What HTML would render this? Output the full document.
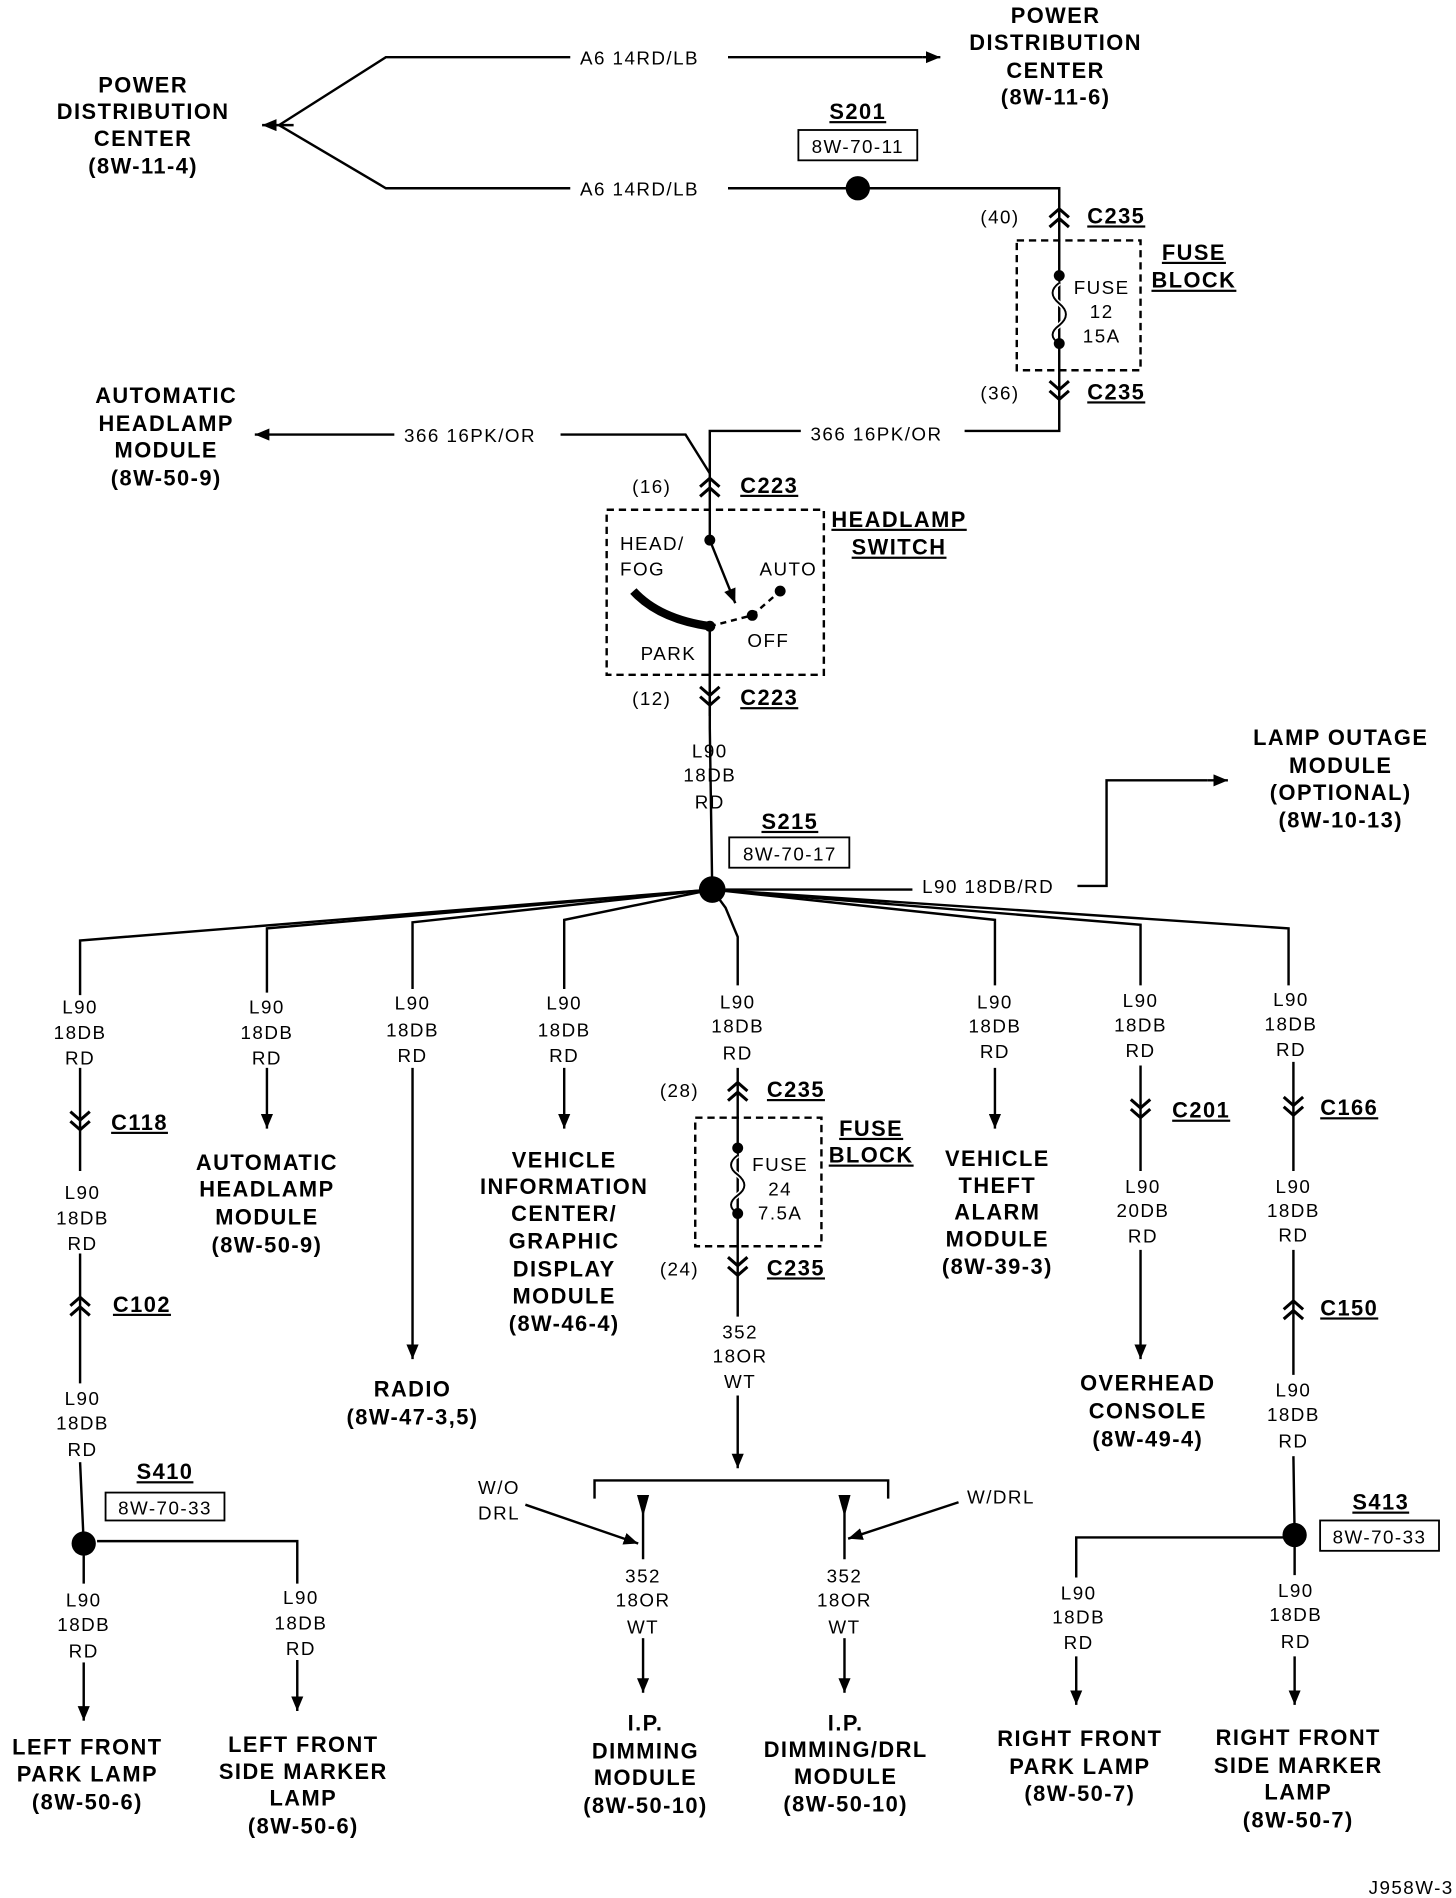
<!DOCTYPE html>
<html><head><meta charset="utf-8"><style>
html,body{margin:0;padding:0;background:#fff}
svg{display:block}
.b{font-family:"Liberation Sans",sans-serif;font-weight:bold;font-size:18px;letter-spacing:1.2px;text-anchor:middle}
.t{font-family:"Liberation Sans",sans-serif;font-size:15.5px;letter-spacing:1.2px}
.m{text-anchor:middle}
.u{text-decoration:underline}
</style></head><body>
<svg width="1456" height="1898" viewBox="0 0 1200 1564" xmlns="http://www.w3.org/2000/svg">
<defs>
<marker id="a" viewBox="0 0 12 10" refX="12" refY="5" markerWidth="12" markerHeight="10" markerUnits="userSpaceOnUse" orient="auto"><path d="M0,0 L12,5 L0,10z" fill="#000"/></marker>
<g id="cd"><path d="M-8,-9 L0,-2 L8,-9 M-8,-1 L0,6 L8,-1" fill="none" stroke="#000" stroke-width="2.5"/></g>
<g id="cu"><path d="M-8,9 L0,2 L8,9 M-8,1 L0,-6 L8,1" fill="none" stroke="#000" stroke-width="2.5"/></g>
</defs>
<g stroke="#000" stroke-width="2" fill="none">
<path d="M230,103 L318,47 L470,47 M600,47 L760,47" />
<path d="M760,47 L775,47" marker-end="url(#a)"/>
<path d="M230,103 L318,155 L470,155 M600,155 L873,155 L873,335 L873,355 L795,355 M660,355 L585,355 L585,590"/>
<path d="M242,103 L216,103" marker-end="url(#a)"/>
<path d="M325,358 L210,358" marker-end="url(#a)"/>
<path d="M462,358 L565,358 L585,390"/>
<rect x="838" y="198" width="102" height="107" stroke-dasharray="6,4"/>
<path d="M873,233 Q862,241 873,250 Q884,259 873,268 Q862,276 873,283" stroke="#fff" stroke-width="4"/>
<path d="M873,233 Q862,241 873,250 Q884,259 873,268 Q862,276 873,283" stroke-width="1.6"/>
<rect x="500" y="420" width="179" height="136" stroke-dasharray="6,4"/>
<path d="M585,445 L585,516" stroke="#fff" stroke-width="4"/>
<path d="M585,445 L606,497" marker-end="url(#a)"/>
<path d="M585,516 L620,507 L643,487" stroke-dasharray="5,4"/>
<path d="M522,487 Q543,510 585,516" stroke-width="7"/>
<path d="M585,516 L585,600 L587,733"/>
<path d="M598,733 L752,733 M888,730 L912,730 L912,643 L995,643"/>
<path d="M995,643 L1012,643" marker-end="url(#a)"/>
<path d="M587,733 L66,775 L66,820 M66,880 L66,965 M66,1033 L66,1140 M66,1205 L69,1272 L69,1305"/>
<path d="M587,733 L220,765 L220,818 M220,880 L220,930" marker-end="url(#a)"/>
<path d="M587,733 L340,760 L340,815 M340,880 L340,1120" marker-end="url(#a)"/>
<path d="M587,733 L465,758 L465,815 M465,880 L465,930" marker-end="url(#a)"/>
<path d="M587,733 L598,748 L608,772 L608,812 M608,880 L608,1085 M608,1150 L608,1210" marker-end="url(#a)"/>
<path d="M587,733 L820,758 L820,812 M820,880 L820,930" marker-end="url(#a)"/>
<path d="M587,733 L940,762 L940,812 M940,878 L940,965 M940,1030 L940,1120" marker-end="url(#a)"/>
<path d="M587,733 L1062,765 L1062,812 M1066,875 L1066,965 M1066,1030 L1066,1133 M1066,1200 L1067,1265 L1067,1298 M1067,1365 L1067,1405" marker-end="url(#a)"/>
<path d="M69,1370 L69,1418" marker-end="url(#a)"/>
<path d="M80,1270 L245,1270 L245,1305 M245,1368 L245,1410" marker-end="url(#a)"/>
<path d="M1067,1267 L887,1267 L887,1300 M887,1365 L887,1405" marker-end="url(#a)"/>
<rect x="573" y="921" width="104" height="106" stroke-dasharray="6,4"/>
<path d="M608,952 Q597,960 608,968 Q619,977 608,985 Q597,993 608,1000" stroke="#fff" stroke-width="4"/>
<path d="M608,952 Q597,960 608,968 Q619,977 608,985 Q597,993 608,1000" stroke-width="1.6"/>
<path d="M490,1235 L490,1220 L732,1220 L732,1235"/>
<path d="M530,1232 L530,1285 M696,1232 L696,1285"/>
<path d="M433,1240 L526,1272" marker-end="url(#a)"/>
<path d="M790,1238 L699,1268" marker-end="url(#a)"/>
<path d="M696,1350 L696,1395" marker-end="url(#a)"/>
<path d="M530,1350 L530,1395" marker-end="url(#a)"/>
<rect x="658" y="107" width="98" height="25" stroke-width="1.5"/>
<rect x="601" y="690" width="99" height="25" stroke-width="1.5"/>
<rect x="87" y="1230" width="98" height="23" stroke-width="1.5"/>
<rect x="1088" y="1253" width="98" height="25" stroke-width="1.5"/>
</g>
<g fill="#000">
<path d="M525,1232 L535,1232 L530,1250z M691,1232 L701,1232 L696,1250z"/>
<circle cx="707" cy="155" r="10"/>
<circle cx="587" cy="733" r="11"/>
<circle cx="69" cy="1272" r="10"/>
<circle cx="1067" cy="1265" r="10"/>
<circle cx="873" cy="227" r="4.5"/><circle cx="873" cy="283" r="4.5"/>
<circle cx="608" cy="946" r="4.5"/><circle cx="608" cy="1000" r="4.5"/>
<circle cx="585" cy="445" r="4.5"/><circle cx="643" cy="487" r="4.5"/><circle cx="620" cy="507" r="4.5"/><circle cx="585" cy="516" r="4.5"/>
</g>
<use href="#cu" x="873" y="178"/>
<use href="#cd" x="873" y="323"/>
<use href="#cu" x="585" y="400"/>
<use href="#cd" x="585" y="575"/>
<use href="#cd" x="66" y="925"/>
<use href="#cu" x="66" y="1075"/>
<use href="#cu" x="608" y="898"/>
<use href="#cd" x="608" y="1045"/>
<use href="#cd" x="940" y="915"/>
<use href="#cd" x="1066" y="913"/>
<use href="#cu" x="1066" y="1078"/>

<g class="b">
<text x="118" y="76">POWER</text><text x="118" y="98">DISTRIBUTION</text><text x="118" y="120">CENTER</text><text x="118" y="143">(8W-11-4)</text>
<text x="870" y="19">POWER</text><text x="870" y="41">DISTRIBUTION</text><text x="870" y="64">CENTER</text><text x="870" y="86">(8W-11-6)</text>
<text x="707" y="98" class="u">S201</text>
<text x="920" y="184" class="u">C235</text><text x="920" y="329" class="u">C235</text>
<text x="984" y="214" class="u">FUSE</text><text x="984" y="237" class="u">BLOCK</text>
<text x="137" y="332">AUTOMATIC</text><text x="137" y="355">HEADLAMP</text><text x="137" y="377">MODULE</text><text x="137" y="400">(8W-50-9)</text>
<text x="634" y="406" class="u">C223</text><text x="634" y="581" class="u">C223</text>
<text x="741" y="434" class="u">HEADLAMP</text><text x="741" y="457" class="u">SWITCH</text>
<text x="651" y="683" class="u">S215</text>
<text x="1105" y="614">LAMP OUTAGE</text><text x="1105" y="637">MODULE</text><text x="1105" y="659">(OPTIONAL)</text><text x="1105" y="682">(8W-10-13)</text>
<text x="115" y="931" class="u">C118</text><text x="117" y="1081" class="u">C102</text>
<text x="136" y="1219" class="u">S410</text>
<text x="72" y="1446">LEFT FRONT</text><text x="72" y="1468">PARK LAMP</text><text x="72" y="1491">(8W-50-6)</text>
<text x="250" y="1444">LEFT FRONT</text><text x="250" y="1466">SIDE MARKER</text><text x="250" y="1488">LAMP</text><text x="250" y="1511">(8W-50-6)</text>
<text x="220" y="964">AUTOMATIC</text><text x="220" y="986">HEADLAMP</text><text x="220" y="1009">MODULE</text><text x="220" y="1032">(8W-50-9)</text>
<text x="340" y="1151">RADIO</text><text x="340" y="1174">(8W-47-3,5)</text>
<text x="465" y="962">VEHICLE</text><text x="465" y="984">INFORMATION</text><text x="465" y="1006">CENTER/</text><text x="465" y="1029">GRAPHIC</text><text x="465" y="1052">DISPLAY</text><text x="465" y="1074">MODULE</text><text x="465" y="1097">(8W-46-4)</text>
<text x="656" y="904" class="u">C235</text><text x="656" y="1051" class="u">C235</text>
<text x="718" y="936" class="u">FUSE</text><text x="718" y="958" class="u">BLOCK</text>
<text x="822" y="961">VEHICLE</text><text x="822" y="983">THEFT</text><text x="822" y="1005">ALARM</text><text x="822" y="1027">MODULE</text><text x="822" y="1050">(8W-39-3)</text>
<text x="990" y="921" class="u">C201</text>
<text x="946" y="1146">OVERHEAD</text><text x="946" y="1169">CONSOLE</text><text x="946" y="1192">(8W-49-4)</text>
<text x="1112" y="919" class="u">C166</text><text x="1112" y="1084" class="u">C150</text>
<text x="1138" y="1244" class="u">S413</text>
<text x="532" y="1426">I.P.</text><text x="532" y="1449">DIMMING</text><text x="532" y="1471">MODULE</text><text x="532" y="1494">(8W-50-10)</text>
<text x="697" y="1426">I.P.</text><text x="697" y="1448">DIMMING/DRL</text><text x="697" y="1470">MODULE</text><text x="697" y="1493">(8W-50-10)</text>
<text x="890" y="1439">RIGHT FRONT</text><text x="890" y="1462">PARK LAMP</text><text x="890" y="1484">(8W-50-7)</text>
<text x="1070" y="1438">RIGHT FRONT</text><text x="1070" y="1461">SIDE MARKER</text><text x="1070" y="1483">LAMP</text><text x="1070" y="1506">(8W-50-7)</text>
</g>
<g class="t">
<text x="478" y="53">A6 14RD/LB</text><text x="478" y="161">A6 14RD/LB</text>
<text x="707" y="126" class="m">8W-70-11</text>
<text x="808" y="184">(40)</text><text x="808" y="329">(36)</text>
<text x="908" y="242" class="m">FUSE</text><text x="908" y="262" class="m">12</text><text x="908" y="282" class="m">15A</text>
<text x="333" y="364">366 16PK/OR</text><text x="668" y="363">366 16PK/OR</text>
<text x="521" y="406">(16)</text><text x="521" y="581">(12)</text>
<text x="511" y="453">HEAD/</text><text x="511" y="474">FOG</text><text x="626" y="474">AUTO</text><text x="528" y="544">PARK</text><text x="616" y="533">OFF</text>
<text x="585" y="624" class="m">L90</text><text x="585" y="644" class="m">18DB</text><text x="585" y="666" class="m">RD</text>
<text x="651" y="709" class="m">8W-70-17</text>
<text x="760" y="736">L90 18DB/RD</text>
<g class="m">
<text x="66" y="835">L90</text><text x="66" y="856">18DB</text><text x="66" y="877">RD</text>
<text x="220" y="835">L90</text><text x="220" y="856">18DB</text><text x="220" y="877">RD</text>
<text x="340" y="832">L90</text><text x="340" y="854">18DB</text><text x="340" y="875">RD</text>
<text x="465" y="832">L90</text><text x="465" y="854">18DB</text><text x="465" y="875">RD</text>
<text x="608" y="831">L90</text><text x="608" y="851">18DB</text><text x="608" y="873">RD</text>
<text x="820" y="831">L90</text><text x="820" y="851">18DB</text><text x="820" y="872">RD</text>
<text x="940" y="830">L90</text><text x="940" y="850">18DB</text><text x="940" y="871">RD</text>
<text x="1064" y="829">L90</text><text x="1064" y="849">18DB</text><text x="1064" y="870">RD</text>
<text x="68" y="988">L90</text><text x="68" y="1009">18DB</text><text x="68" y="1030">RD</text>
<text x="68" y="1158">L90</text><text x="68" y="1178">18DB</text><text x="68" y="1200">RD</text>
<text x="136" y="1248">8W-70-33</text>
<text x="69" y="1324">L90</text><text x="69" y="1344">18DB</text><text x="69" y="1366">RD</text>
<text x="248" y="1322">L90</text><text x="248" y="1343">18DB</text><text x="248" y="1364">RD</text>
<text x="643" y="965">FUSE</text><text x="643" y="985">24</text><text x="643" y="1005">7.5A</text>
<text x="610" y="1103">352</text><text x="610" y="1123">18OR</text><text x="610" y="1144">WT</text>
<text x="530" y="1304">352</text><text x="530" y="1324">18OR</text><text x="530" y="1346">WT</text>
<text x="696" y="1304">352</text><text x="696" y="1324">18OR</text><text x="696" y="1346">WT</text>
<text x="942" y="983">L90</text><text x="942" y="1003">20DB</text><text x="942" y="1024">RD</text>
<text x="1066" y="983">L90</text><text x="1066" y="1003">18DB</text><text x="1066" y="1023">RD</text>
<text x="1066" y="1151">L90</text><text x="1066" y="1171">18DB</text><text x="1066" y="1193">RD</text>
<text x="1137" y="1272">8W-70-33</text>
<text x="889" y="1318">L90</text><text x="889" y="1338">18DB</text><text x="889" y="1359">RD</text>
<text x="1068" y="1316">L90</text><text x="1068" y="1336">18DB</text><text x="1068" y="1358">RD</text>
</g>
<text x="560" y="904" class="m">(28)</text><text x="560" y="1051" class="m">(24)</text>
<text x="394" y="1231">W/O</text><text x="394" y="1252">DRL</text>
<text x="797" y="1239">W/DRL</text>
<text x="1128" y="1561">J958W-3</text>
</g>
</svg>
</body></html>
